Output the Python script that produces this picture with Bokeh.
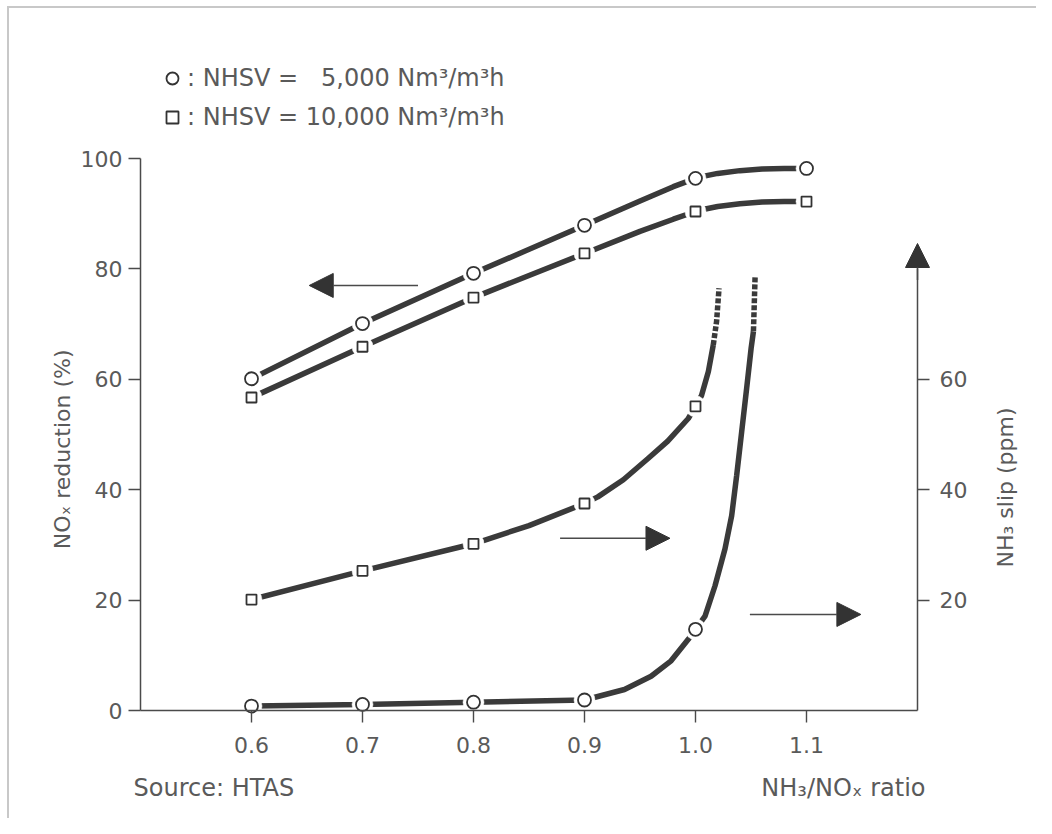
from bokeh.plotting import figure
from bokeh.models import (Range1d, LinearAxis, FixedTicker, Label, Arrow, NormalHead,
                          Legend, LegendItem, PrintfTickFormatter)
from bokeh.embed import file_html
from bokeh.resources import INLINE

# ---------------- data ----------------
ratio = [0.6, 0.7, 0.8, 0.9, 1.0, 1.1]
nox_red_5000 = [60.1, 70.1, 79.2, 87.9, 96.4, 98.2]
nox_red_10000 = [56.7, 65.9, 74.8, 82.8, 90.4, 92.2]

slip_ratio = [0.6, 0.7, 0.8, 0.9, 1.0]
slip_5000 = [0.8, 1.1, 1.5, 1.9, 14.7]
slip_10000 = [20.1, 25.3, 30.2, 37.5, 55.1]

# traced curves (smooth lines through the measured points)
red5_cx = [0.6, 0.7, 0.8, 0.9, 0.95, 0.98, 1.0, 1.01, 1.02, 1.04, 1.06, 1.08, 1.1]
red5_cy = [60.1, 70.1, 79.2, 87.9, 92.3, 94.9, 96.4, 96.9, 97.3, 97.8, 98.1, 98.2, 98.2]
red10_cx = [0.6, 0.7, 0.8, 0.9, 0.95, 0.98, 1.0, 1.01, 1.02, 1.04, 1.06, 1.08, 1.1]
red10_cy = [56.7, 65.9, 74.8, 82.8, 86.8, 89.0, 90.4, 90.9, 91.3, 91.8, 92.1, 92.2, 92.2]

slip10_cx = [0.6, 0.7, 0.8, 0.85, 0.9, 0.912, 0.935, 0.957, 0.975, 0.9935, 1.0, 1.0055, 1.0116, 1.016]
slip10_cy = [20.1, 25.3, 30.2, 33.5, 37.5, 38.7, 41.8, 45.6, 48.8, 52.9, 55.1, 57.1, 61.4, 66.2]
slip10_dx = [1.016, 1.019, 1.0212]
slip10_dy = [66.2, 70.5, 76.5]

slip5_cx = [0.6, 0.7, 0.8, 0.9, 0.936, 0.96, 0.978, 0.9935, 1.0, 1.0086, 1.0176, 1.0266,
            1.0326, 1.0371, 1.0416, 1.0461, 1.0501, 1.0522]
slip5_cy = [0.8, 1.1, 1.5, 1.9, 3.8, 6.2, 9.0, 12.9, 14.7, 17.1, 22.6, 29.3,
            35.3, 42.6, 50.5, 58.4, 65.6, 68.7]
slip5_dx = [1.0522, 1.0537]
slip5_dy = [68.7, 78.7]

x_ticks = [0.6, 0.7, 0.8, 0.9, 1.0, 1.1]
y_ticks = [0, 20, 40, 60, 80, 100]
slip_ticks = [20, 40, 60]

legend_labels = [": NHSV = \u00a0\u00a05,000 Nm\u00b3/m\u00b3h", ": NHSV = 10,000 Nm\u00b3/m\u00b3h"]

# ---------------- style ----------------
FONT = "DejaVu Sans"
TXT = "#5a5a5a"
AX = "#4a4a4a"
CURVE = "#3a3a3a"
LW = 5.5
W, H = 1036, 818

# frame covers the whole canvas; axes are drawn at fixed locations inside it
p = figure(width=W, height=H, output_backend="svg", toolbar_location=None,
           x_range=Range1d(0.5 - 140 / 1110, 0.5 + (W - 140) / 1110),
           y_range=Range1d((710 - H) / 5.52, 710 / 5.52),
           min_border=0, min_border_left=0, min_border_right=0,
           min_border_top=0, min_border_bottom=0,
           x_axis_type=None, y_axis_type=None)
p.extra_y_ranges = {"slip": Range1d((710 - H) / 5.52, 710 / 5.52)}
p.outline_line_color = None
p.xgrid.visible = False
p.ygrid.visible = False
p.border_fill_alpha = 0
p.background_fill_alpha = 0
p.styles = {
    "background-color": "white",
    "background-image": "linear-gradient(#c8c8c8, #c8c8c8), linear-gradient(#c8c8c8, #c8c8c8)",
    "background-size": "100% 2px, 2px 100%",
    "background-position": "8px 6px, 7px 6px",
    "background-repeat": "no-repeat",
}

def style_axis(ax, standoff):
    ax.axis_line_color = AX
    ax.axis_line_width = 1.5
    ax.major_tick_line_color = AX
    ax.major_tick_line_width = 1.4
    ax.major_tick_out = 12
    ax.major_tick_in = 0
    ax.minor_tick_line_color = None
    ax.major_label_text_font = FONT
    ax.major_label_text_font_size = "22px"
    ax.major_label_text_color = TXT
    ax.major_label_standoff = standoff

xaxis = LinearAxis(ticker=FixedTicker(ticks=x_ticks), formatter=PrintfTickFormatter(format="%.1f"),
                   bounds=(0.5, 1.2), fixed_location=0)
style_axis(xaxis, 14)
p.add_layout(xaxis, "below")

yaxis = LinearAxis(ticker=FixedTicker(ticks=y_ticks), bounds=(0, 100), fixed_location=0.5)
style_axis(yaxis, 6)
p.add_layout(yaxis, "left")

raxis = LinearAxis(y_range_name="slip", ticker=FixedTicker(ticks=slip_ticks), bounds=(0, 80),
                   fixed_location=1.2)
style_axis(raxis, 10)
p.add_layout(raxis, "right")

# ---------------- curves ----------------
for cx, cy in [(red5_cx, red5_cy), (red10_cx, red10_cy)]:
    p.line(cx, cy, line_width=LW, line_color=CURVE)
for cx, cy in [(slip10_cx, slip10_cy), (slip5_cx, slip5_cy)]:
    p.line(cx, cy, line_width=LW, line_color=CURVE, y_range_name="slip")
for cx, cy in [(slip10_dx, slip10_dy), (slip5_dx, slip5_dy)]:
    p.line(cx, cy, line_width=LW, line_color=CURVE, line_dash="5 2", y_range_name="slip")

# white gaps round the markers
for xs, ys, rn in [(ratio, nox_red_5000, "default"), (ratio, nox_red_10000, "default"),
                   (slip_ratio, slip_5000, "slip"), (slip_ratio, slip_10000, "slip")]:
    p.scatter(xs, ys, marker="circle", size=21, fill_color="white", fill_alpha=1.0,
              line_color="white", line_width=0.5, y_range_name=rn)

# markers
r_c = p.scatter(ratio, nox_red_5000, marker="circle", size=13, fill_color="white",
                line_color="#333333", line_width=1.8)
r_s = p.scatter(ratio, nox_red_10000, marker="square", size=10, fill_color="white",
                line_color="#333333", line_width=1.8)
p.scatter(slip_ratio, slip_5000, marker="circle", size=13, fill_color="white",
          line_color="#333333", line_width=1.8, y_range_name="slip")
p.scatter(slip_ratio, slip_10000, marker="square", size=10, fill_color="white",
          line_color="#333333", line_width=1.8, y_range_name="slip")

# ---------------- arrows ----------------
def head():
    return NormalHead(size=24, fill_color="#333333", line_color="#333333", line_width=1)

p.add_layout(Arrow(end=head(), x_start=0.75, y_start=77.0, x_end=0.652, y_end=77.0,
                   line_width=1.5, line_color=AX))
p.add_layout(Arrow(end=head(), x_start=0.878, y_start=31.2, x_end=0.977, y_end=31.2,
                   line_width=1.5, line_color=AX, y_range_name="slip"))
p.add_layout(Arrow(end=head(), x_start=1.049, y_start=17.4, x_end=1.149, y_end=17.4,
                   line_width=1.5, line_color=AX, y_range_name="slip"))
p.add_layout(Arrow(end=head(), x_start=1.2, y_start=78.0, x_end=1.2, y_end=84.6,
                   line_width=1.5, line_color=AX, y_range_name="slip"))

# ---------------- legend ----------------
legend = Legend(items=[LegendItem(label=legend_labels[0], renderers=[r_c]),
                       LegendItem(label=legend_labels[1], renderers=[r_s])],
                location=(157, H - 132), glyph_width=30, glyph_height=30, label_standoff=0,
                padding=0, margin=0, spacing=9, border_line_color=None,
                background_fill_alpha=0, label_text_font=FONT, label_text_font_size="24px",
                label_text_color=TXT)
p.add_layout(legend)

# ---------------- texts ----------------
def lab(text, x, y, size, align="left", angle=0.0, rn="default"):
    p.add_layout(Label(text=text, x=x, y=y, text_font=FONT, text_font_size=size,
                       text_color=TXT, text_align=align, text_baseline="middle",
                       angle=angle, y_range_name=rn))

lab("NO\u2093 reduction (%)", 0.4297, 47.3, "22px", "center", 1.5708)
lab("NH\u2083 slip (ppm)", 1.2793, 40.4, "22px", "center", 1.5708, "slip")
lab("Source: HTAS", 0.4937, -13.95, "24px", "left")
lab("NH\u2083/NO\u2093 ratio", 1.2072, -13.95, "24px", "right")

open("out.html", "w").write(file_html(p, INLINE))
